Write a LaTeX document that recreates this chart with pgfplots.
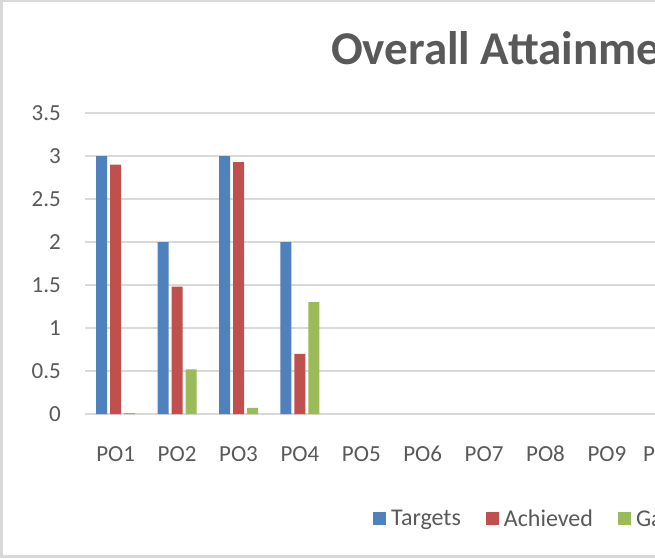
\documentclass[border=0pt]{standalone}
\usepackage{pgfplots}
\usepackage{pgfplotstable}
\pgfplotsset{compat=1.18}
\usepackage{fontspec}
\setmainfont{Carlito}
\definecolor{tblue}{HTML}{4F81BD}
\definecolor{tred}{HTML}{C0504D}
\definecolor{tgreen}{HTML}{9BBB59}
\definecolor{txt}{HTML}{595959}
\definecolor{grd}{HTML}{D9D9D9}

\pgfplotstableread{
x t a g
1 3 2.9 0.01
2 2 1.48 0.52
3 3 2.93 0.07
4 2 0.7 1.3
5 0 0 0
6 0 0 0
7 0 0 0
8 0 0 0
9 0 0 0
10 0 0 0
11 0 0 0
12 0 0 0
13 0 0 0
14 0 0 0
15 0 0 0
}\datatab

\pgfplotsset{sqlegend/.style={legend image code/.code={\fill[##1] (0pt,-6.5pt) rectangle (13pt,6.5pt);}}}

\begin{document}
\begin{tikzpicture}[x=1pt,y=1pt]
\begin{scope}
\clip (0,0) rectangle (655,558);
\fill[white] (0,0) rectangle (655,558);
\draw[grd, line width=2.5pt] (1.25,1.5) rectangle (720,556.75);
\node[anchor=base west, inner sep=0pt, font=\fontsize{47}{56}\selectfont\bfseries, text=txt] at (331,493) {Overall Attainment};
\begin{axis}[
  at={(85pt,144pt)}, anchor=south west,
  scale only axis, width=921pt, height=301pt,
  ybar=3pt, bar width=11pt,
  xmin=0.5, xmax=15.5, ymin=0, ymax=3.5,
  xtick={1,2,3,4,5,6,7,8,9,10,11,12,13,14,15},
  xticklabels={PO1,PO2,PO3,PO4,PO5,PO6,PO7,PO8,PO9,PO10,PO11,PO12,PSO1,PSO2,PSO3},
  ytick={0,0.5,1,1.5,2,2.5,3,3.5},
  yticklabels={0,0.5,1,1.5,2,2.5,3,3.5},
  major tick length=0pt,
  axis line style={draw=none},
  ymajorgrids, grid style={grd, line width=1.5pt},
  tick label style={font=\fontsize{23}{27}\selectfont, text=txt},
  xticklabel style={anchor=base, yshift=-47pt},
  yticklabel style={anchor=east, inner sep=0pt, xshift=-24pt},
  unbounded coords=discard,
  y filter/.expression={y==0 ? nan : y},
  legend columns=3,
  legend style={at={(0.3127,-0.3488)}, anchor=west, draw=none, fill=none, inner sep=0pt,
    font=\fontsize{24}{28}\selectfont, text=txt,
    nodes={inner xsep=5pt, inner ysep=0pt},
    /tikz/every even column/.append style={column sep=20pt}},
]
\addplot[fill=tblue, draw=none, sqlegend] table[x=x, y=t] {\datatab};
\addplot[fill=tred, draw=none, sqlegend] table[x=x, y=a] {\datatab};
\addplot[fill=tgreen, draw=none, sqlegend] table[x=x, y=g] {\datatab};
\legend{Targets, Achieved, Gap}
\end{axis}
\end{scope}
\pgfresetboundingbox
\useasboundingbox (0,0) rectangle (655,558);
\end{tikzpicture}
\end{document}
